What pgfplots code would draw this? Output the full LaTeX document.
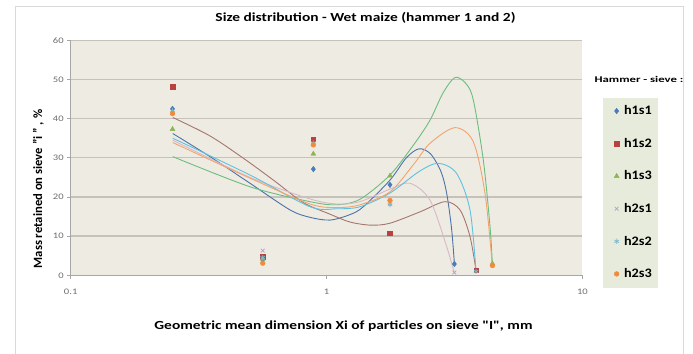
\documentclass[border=0pt]{standalone}
\usepackage{fontspec}
\setmainfont{Carlito}
\newfontfamily\wideA{Carlito}[FakeStretch=1.25]
\newfontfamily\wideB{Carlito}[FakeStretch=1.45]
\newfontfamily\wideC{Carlito}[FakeStretch=1.1]
\usepackage{pgfplots}
\pgfplotsset{compat=1.18}
\definecolor{plotbg}{HTML}{EEEBE3}
\definecolor{gridc}{HTML}{C6C2BA}
\definecolor{legbg}{HTML}{E6EBDB}
\definecolor{bordc}{HTML}{D9D9D9}
\definecolor{tickc}{HTML}{6E6E6E}
\definecolor{axc}{HTML}{A6A6A6}
% marker colours
\definecolor{mA}{HTML}{4A7CBA}
\definecolor{mB}{HTML}{B9413F}
\definecolor{mC}{HTML}{8DB453}
\definecolor{mD}{HTML}{B2A3BF}
\definecolor{mE}{HTML}{7CB8CC}
\definecolor{mF}{HTML}{F08A3C}
% trendline colours
\definecolor{tA}{HTML}{4B73A8}
\definecolor{tB}{HTML}{A5766F}
\definecolor{tC}{HTML}{6CBD7E}
\definecolor{tD}{HTML}{D8B8C6}
\definecolor{tE}{HTML}{5EC2DE}
\definecolor{tF}{HTML}{F2A46C}
\pgfplotsset{dotleg/.style={legend image code/.code={\draw[##1] plot coordinates {(0bp,0bp)};}}}
\begin{document}
\begin{tikzpicture}
\fill[white] (0,0) rectangle (693bp,354bp);
\draw[bordc, line width=0.8bp] (15.5bp,-5bp) |- (683bp,347.3bp) -- (683bp,-5bp);
\fill[legbg] (603bp,66bp) rectangle (658bp,256bp);
\node[font=\wideA\bfseries\fontsize{12.4}{14}\selectfont] at (365.5bp,336.5bp) {Size distribution - Wet maize (hammer 1 and 2)};
\node[font=\bfseries\fontsize{12.7}{14}\selectfont, rotate=90] at (38.5bp,165bp) {Mass retained on sieve "i " , \%};
\node[font=\wideA\bfseries\fontsize{12.4}{14}\selectfont] at (343.5bp,28bp) {Geometric mean dimension Xi of particles on sieve "I", mm};
\node[font=\wideB\bfseries\fontsize{8.8}{10}\selectfont] at (639bp,275bp) {Hammer - sieve :};
\begin{axis}[
  at={(70.7bp,78.7bp)}, anchor=south west,
  scale only axis, width=511.7bp, height=235bp,
  xmode=log, xmin=0.1, xmax=10, ymin=0, ymax=60,
  xtick={0.1,1,10}, xticklabels={0.1,1,10},
  ytick={0,10,20,30,40,50,60},
  xminorticks=false,
  /pgf/number format/assume math mode=true,
  axis background/.style={fill=plotbg},
  ymajorgrids, grid style={gridc, line width=1.3bp},
  axis x line=bottom, axis y line=left,
  axis line style={axc, -},
  tick align=outside, major tick length=3.5bp,
  tick style={axc, line width=0.6bp},
  ticklabel style={font=\wideA\fontsize{8.5}{10}\selectfont, text=tickc},
  xticklabel style={yshift=-7bp},
  legend style={draw=none, fill=none, inner sep=0pt,
    at={(axis description cs:1.0618,0.7225)}, anchor=north west,
    font=\wideC\bfseries\fontsize{13}{15}\selectfont, row sep=22bp,
    nodes={inner sep=0pt}},
  legend cell align=left,
]
% trendlines
\addplot[tA, line width=0.9bp, smooth, forget plot] coordinates {
(0.2506,36.2)(0.3503,30.3)(0.5022,23.5)(0.7197,16.7)(0.8617,14.8)(1.032,14.1)(1.235,15.5)(1.392,17.5)(1.77,24.3)(2.05,30.0)(2.3,32.3)(2.55,31.0)(2.80,26.5)(2.949,20.9)(3.08,12.0)(3.16,3.0)};
\addplot[tB, line width=0.9bp, smooth, forget plot] coordinates {
(0.2506,40.3)(0.35,35.6)(0.4728,29.9)(0.62,24.3)(0.81,18.6)(1.032,15.6)(1.235,13.6)(1.49,12.8)(1.77,13.3)(2.319,16.2)(2.904,18.8)(3.323,16.7)(3.637,9.9)(3.838,1.3)};
\addplot[tC, line width=0.9bp, smooth, forget plot] coordinates {
(0.2506,30.3)(0.5022,22.6)(0.8617,18.8)(1.09,18.0)(1.35,19.4)(1.77,25.6)(2.2,33.5)(2.537,39.6)(2.85,46.5)(3.177,50.5)(3.5,49.0)(3.746,44.8)(4.10,29.4)(4.355,12.4)(4.446,3.0)};
\addplot[tD, line width=0.9bp, smooth, forget plot] coordinates {
(0.2506,34.5)(0.5022,25.0)(0.8617,19.5)(1.1,18.2)(1.35,18.8)(1.77,22.0)(2.12,23.5)(2.537,19.2)(2.949,7.3)(3.16,0.5)};
\addplot[tE, line width=0.9bp, smooth, forget plot] coordinates {
(0.2506,35.0)(0.5022,25.6)(0.8617,17.5)(1.1,17.0)(1.35,17.5)(1.77,21.0)(2.3,26.5)(2.734,28.6)(3.226,26.0)(3.637,16.7)(3.838,1.2)};
\addplot[tF, line width=0.9bp, smooth, forget plot] coordinates {
(0.2506,33.9)(0.5022,24.8)(0.8617,18.2)(1.1,17.3)(1.35,18.0)(1.77,21.3)(2.2,28.5)(2.537,33.7)(3.177,37.7)(3.746,34.1)(4.163,20.9)(4.446,2.5)};
% data points
\addplot[only marks, mark=diamond*, mark size=2.8bp, color=mA, dotleg] coordinates {
(0.25,42.5)(0.563,4.0)(0.888,27.1)(1.77,23.1)(3.16,2.9)};
\addlegendentry{\hspace*{5bp}h1s1}
\addplot[only marks, mark=square*, mark size=2.3bp, color=mB, dotleg] coordinates {
(0.25,48.2)(0.563,4.8)(0.888,34.7)(1.77,10.7)(3.84,1.3)};
\addlegendentry{\hspace*{5bp}h1s2}
\addplot[only marks, mark=triangle*, mark size=2.8bp, color=mC, dotleg] coordinates {
(0.25,37.3)(0.563,4.2)(0.888,31.0)(1.77,25.4)(4.45,3.0)};
\addlegendentry{\hspace*{5bp}h1s3}
\addplot[only marks, mark=x, mark size=2.6bp, color=mD, line width=0.7bp, dotleg] coordinates {
(0.25,41.5)(0.563,6.3)(0.888,33.5)(1.77,18.5)(3.16,0.7)};
\addlegendentry{\hspace*{5bp}h2s1}
\addplot[only marks, mark=asterisk, mark size=2.6bp, color=mE, line width=0.7bp, dotleg] coordinates {
(0.25,42.0)(0.563,4.5)(0.888,33.8)(1.77,18.0)(3.84,1.0)};
\addlegendentry{\hspace*{5bp}h2s2}
\addplot[only marks, mark=*, mark size=2.4bp, color=mF, dotleg] coordinates {
(0.25,41.3)(0.563,3.1)(0.888,33.3)(1.77,19.1)(4.45,2.5)};
\addlegendentry{\hspace*{5bp}h2s3}
\end{axis}
\pgfresetboundingbox
\path (0,0) rectangle (693bp,354bp);
\end{tikzpicture}
\end{document}
